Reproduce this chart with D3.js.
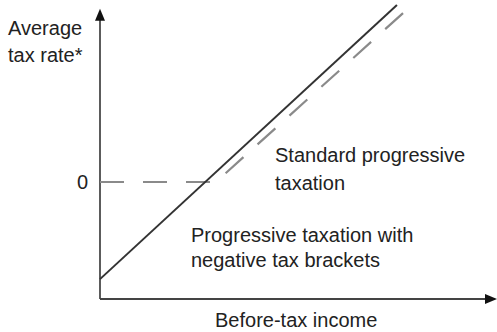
<!DOCTYPE html>
<html><head><meta charset="utf-8">
<script src="https://cdn.jsdelivr.net/npm/d3@7"></script>
<style>
html,body{margin:0;padding:0;background:#fff;}
svg{display:block;font-family:"Liberation Sans",Arial,sans-serif;}
</style></head>
<body><svg id="c" width="497" height="332"></svg>
<script>
// Data (abstract units: income 0..10, tax rate with 0 at the marked tick)
const solidIncome = [0, 7.48];
const solidRate = [-2.49, 4.54];
const dashedIncome = [0, 2.92, 7.86];
const dashedRate = [0, 0, 4.54];
const yTickValues = [0];
const yTickLabels = ["0"];
const yTitle = ["Average", "tax rate*"];
const xTitle = "Before-tax income";
const labelStandard = ["Standard progressive", "taxation"];
const labelNegative = ["Progressive taxation with", "negative tax brackets"];

const svg = d3.select("#c");
const x = d3.scaleLinear().domain([0, 10]).range([100, 497]);
const y = d3.scaleLinear().domain([-3, 0]).range([299, 182]);

const axisCol = "#333";
// axes
svg.append("line").attr("x1", x(0)).attr("x2", x(0)).attr("y1", y(-3)).attr("y2", y(4.3))
  .attr("stroke", axisCol).attr("stroke-width", 1.6);
svg.append("line").attr("x1", x(0)).attr("x2", x(9.8)).attr("y1", y(-3)).attr("y2", y(-3))
  .attr("stroke", "#444").attr("stroke-width", 2);
// arrowheads
const yTop = y(4.44), xEnd = x(10);
svg.append("path").attr("d", `M${x(0)},${yTop} L${x(0)-5},${yTop+12} L${x(0)+5},${yTop+12} Z`).attr("fill", "#111");
svg.append("path").attr("d", `M${xEnd},${y(-3)} L${xEnd-12},${y(-3)-5} L${xEnd-12},${y(-3)+5} Z`).attr("fill", "#111");

// y ticks
svg.selectAll(".yt").data(yTickValues).enter().append("text")
  .attr("x", 88).attr("y", d => y(d) + 7).attr("text-anchor", "end")
  .attr("font-size", 20).attr("fill", "#222").text((d, i) => yTickLabels[i]);

const line = d3.line().x(d => x(d[0])).y(d => y(d[1]));
const dashedPts = dashedIncome.map((v, i) => [v, dashedRate[i]]);
const solidPts = solidIncome.map((v, i) => [v, solidRate[i]]);

svg.append("path").attr("d", line(dashedPts)).attr("fill", "none")
  .attr("stroke", "#8a8a8a").attr("stroke-width", 2.2).attr("stroke-dasharray", "24,19");
svg.append("path").attr("d", line(solidPts)).attr("fill", "none")
  .attr("stroke", "#333").attr("stroke-width", 2);

function multi(lines, xx, yy, lh) {
  const t = svg.append("text").attr("x", xx).attr("y", yy).attr("font-size", 20).attr("fill", "#222");
  lines.forEach((s, i) => t.append("tspan").attr("x", xx).attr("dy", i ? lh : 0).text(s));
}
multi(yTitle, 8, 35, 27);
multi(labelStandard, 275, 162, 28);
multi(labelNegative, 191, 242, 25);
svg.append("text").attr("x", 215).attr("y", 327).attr("font-size", 20).attr("fill", "#222").text(xTitle);
</script></body></html>
